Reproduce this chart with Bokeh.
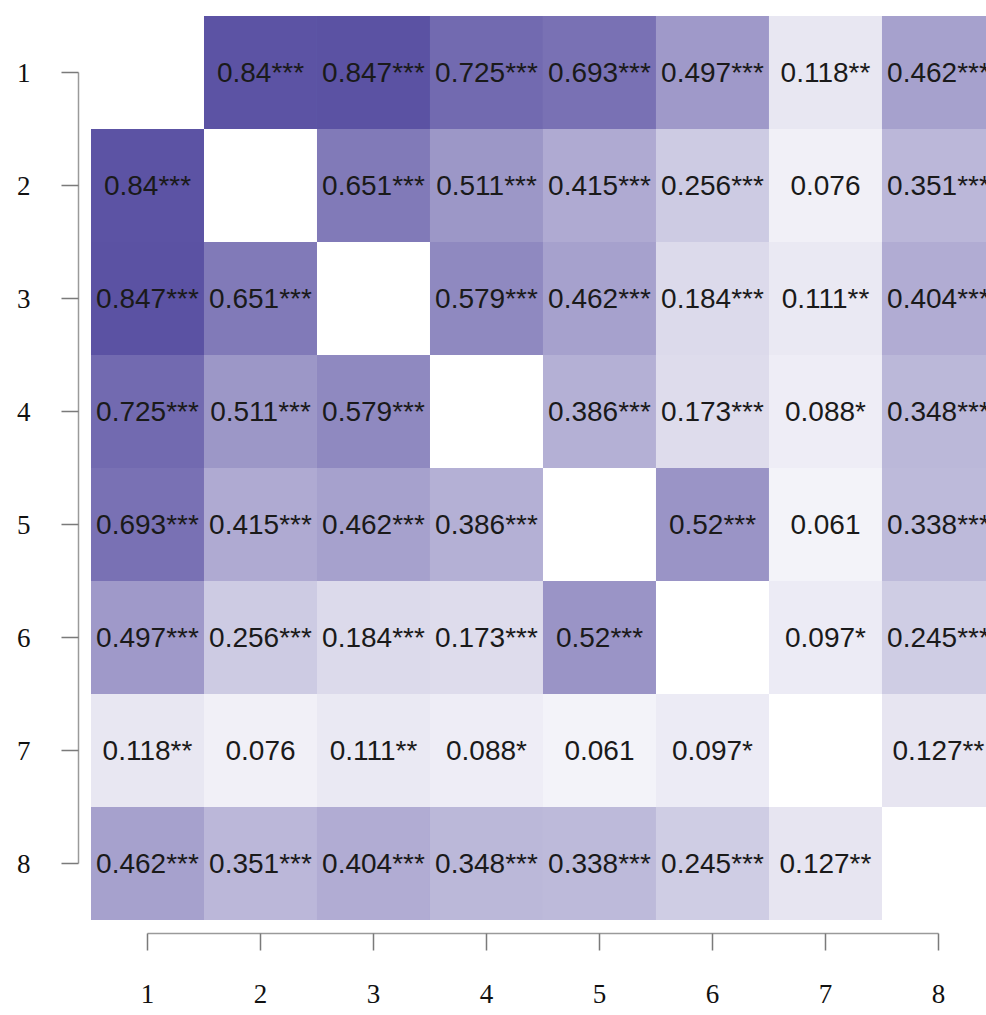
from bokeh.plotting import figure
from bokeh.models import ColumnDataSource, LinearColorMapper, LinearAxis, FixedTicker, Range1d
from bokeh.core.properties import value
from bokeh.embed import file_html
from bokeh.resources import INLINE

labels = ["1", "2", "3", "4", "5", "6", "7", "8"]

# lower-triangle correlations: pairs (i, j) with i < j
pair_i = [1, 1, 1, 1, 1, 1, 1,
          2, 2, 2, 2, 2, 2,
          3, 3, 3, 3, 3,
          4, 4, 4, 4,
          5, 5, 5,
          6, 6,
          7]
pair_j = [2, 3, 4, 5, 6, 7, 8,
          3, 4, 5, 6, 7, 8,
          4, 5, 6, 7, 8,
          5, 6, 7, 8,
          6, 7, 8,
          7, 8,
          8]
corr = [0.84, 0.847, 0.725, 0.693, 0.497, 0.118, 0.462,
        0.651, 0.511, 0.415, 0.256, 0.076, 0.351,
        0.579, 0.462, 0.184, 0.111, 0.404,
        0.386, 0.173, 0.088, 0.348,
        0.52, 0.061, 0.338,
        0.097, 0.245,
        0.127]
stars = ["***", "***", "***", "***", "***", "**", "***",
         "***", "***", "***", "***", "", "***",
         "***", "***", "***", "**", "***",
         "***", "***", "*", "***",
         "***", "", "***",
         "*", "***",
         "**"]

# symmetric table (both triangles)
xs, ys, vals, txt = [], [], [], []
for a, b, v, s in zip(pair_i, pair_j, corr, stars):
    lab = f"{v:g}{s}"
    for x, y in ((b, a), (a, b)):
        xs.append(x)
        ys.append(y)
        vals.append(v)
        txt.append(lab)

src = ColumnDataSource(dict(x=xs, y=ys, v=vals, t=txt))

# white -> purple palette
def hex2rgb(h):
    h = h.lstrip("#")
    return tuple(int(h[k:k + 2], 16) for k in (0, 2, 4))

c0 = hex2rgb("#FFFFFF")
c1 = hex2rgb("#5B52A3")
palette = []
n = 256
for k in range(n):
    f = k / (n - 1)
    rgb = tuple(round(c0[m] + (c1[m] - c0[m]) * f) for m in range(3))
    palette.append("#%02x%02x%02x" % rgb)

mapper = LinearColorMapper(palette=palette, low=0, high=max(corr))

p = figure(frame_width=908, frame_height=933,
           x_range=Range1d(0.3894, 8.425), y_range=Range1d(8.619, 0.3628),
           x_axis_location=None, y_axis_location=None,
           toolbar_location=None, output_backend="svg",
           min_border_left=78, min_border_right=0, min_border_top=0, min_border_bottom=40)
p.outline_line_color = None
p.xgrid.visible = False
p.ygrid.visible = False
p.background_fill_color = "white"

p.rect(x="x", y="y", width=1, height=1, source=src,
       fill_color={"field": "v", "transform": mapper}, line_color=None)
p.text(x="x", y="y", text="t", source=src, text_align="center", text_baseline="middle",
       text_font=value("Liberation Sans"), text_font_size="28px", text_color="#1a1a1a")

ticker = FixedTicker(ticks=list(range(1, 9)))
overrides = {i + 1: lab for i, lab in enumerate(labels)}

for side in ("left", "below"):
    ax = LinearAxis(ticker=ticker, bounds=(1, 8), major_label_overrides=overrides)
    ax.axis_line_color = "#9a9a9a"
    ax.axis_line_width = 1.5
    ax.major_tick_line_color = "#7a7a7a"
    ax.major_tick_line_width = 1.5
    ax.major_tick_in = 0
    ax.major_tick_out = 17
    ax.minor_tick_line_color = None
    ax.major_label_text_font = "Liberation Serif"
    ax.major_label_text_font_size = "27px"
    ax.major_label_text_color = "#111111"
    ax.major_label_standoff = 31 if side == "left" else 34
    p.add_layout(ax, side)

open("out.html", "w").write(file_html(p, INLINE))
